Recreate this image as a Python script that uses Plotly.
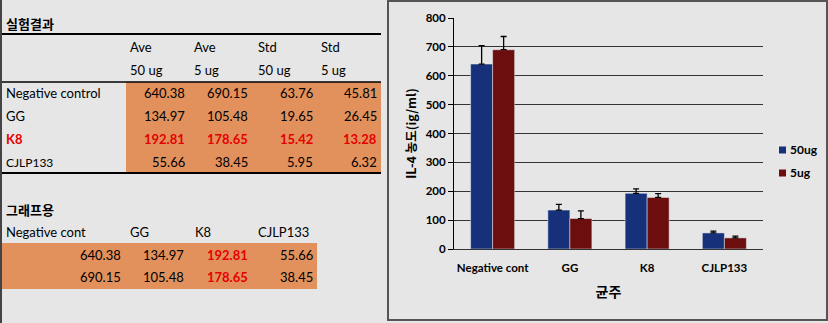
import plotly.graph_objects as go

# ---------------- data ----------------
categories = ["Negative cont", "GG", "K8", "CJLP133"]
row_labels = ["Negative control", "GG", "K8", "CJLP133"]
ave_50 = [640.38, 134.97, 192.81, 55.66]
ave_5 = [690.15, 105.48, 178.65, 38.45]
std_50 = [63.76, 19.65, 15.42, 5.95]
std_5 = [45.81, 26.45, 13.28, 6.32]
header_top = ["Ave", "Ave", "Std", "Std"]
header_bottom = ["50 ug", "5 ug", "50 ug", "5 ug"]
series_names = ["50ug", "5ug"]
y_ticks = [0, 100, 200, 300, 400, 500, 600, 700, 800]
highlight = "K8"

W, H = 828, 323
BG = "#e6e6e6"
ORANGE = "#e2915d"
BLUE = "#17307a"
RED = "#6c0e0e"
HILITE = "#e60000"
FONT = "Lato, 'Noto Sans CJK KR', sans-serif"
KFONT = "'Noto Sans CJK KR', Lato, sans-serif"
DY = -1  # visual centring correction for annotation text


def px(x):
    return x / W


def py(y):
    return 1 - y / H


fig = go.Figure()
fig.add_trace(go.Bar(
    x=categories, y=ave_50, name=series_names[0], marker_color=BLUE,
    error_y=dict(type="data", array=std_50, arrayminus=[0] * len(std_50), symmetric=False,
                 color="black", thickness=1.3, width=3),
    showlegend=False))
fig.add_trace(go.Bar(
    x=categories, y=ave_5, name=series_names[1], marker_color=RED,
    error_y=dict(type="data", array=std_5, arrayminus=[0] * len(std_5), symmetric=False,
                 color="black", thickness=1.3, width=3),
    showlegend=False))

shapes = []
annotations = []


def text(t, x, y, anchor="left", size=13, color="black", bold=False, family=FONT):
    annotations.append(dict(
        text=t, x=px(x), y=py(y + DY), xref="paper", yref="paper", xanchor=anchor,
        yanchor="middle", showarrow=False,
        font=dict(family=family, size=size, color=color, weight="bold" if bold else "normal")))


def rect(x0, y0, x1, y1, fill=None, line=None, lw=0, layer="below"):
    shapes.append(dict(type="rect", xref="paper", yref="paper",
                       x0=px(x0), x1=px(x1), y0=py(y0), y1=py(y1),
                       fillcolor=fill if fill else "rgba(0,0,0,0)",
                       line=dict(color=line if line else "rgba(0,0,0,0)", width=lw), layer=layer))


def hline(x0, x1, y, color="black", lw=1.5):
    shapes.append(dict(type="line", xref="paper", yref="paper", x0=px(x0), x1=px(x1),
                       y0=py(y), y1=py(y), line=dict(color=color, width=lw)))


# ---------------- table 1: 실험결과 ----------------
text("실험결과", 4, 24, size=13, bold=True, family=KFONT)
hline(0, 381, 34, lw=2)
col_left = [128, 192, 256, 319]
col_right = [187, 250, 315, 379]
for i in range(4):
    text(header_top[i], col_left[i], 48)
    text(header_bottom[i], col_left[i], 71)
hline(0, 381, 82, lw=1.5)
rect(126, 82, 381, 172, fill=ORANGE)
row_y = [94, 117, 140, 163]
for r, lab in enumerate(row_labels):
    hot = lab == highlight
    col = HILITE if hot else "black"
    text(lab, 4, row_y[r], color=col, bold=hot, size=12 if lab == "CJLP133" else 13)
    vals = [ave_50[r], ave_5[r], std_50[r], std_5[r]]
    for c, v in enumerate(vals):
        text(f"{v:.2f}", col_right[c], row_y[r], anchor="right", color=col, bold=hot)
hline(0, 381, 173, lw=2)

# ---------------- table 2: 그래프용 ----------------
text("그래프용", 4, 210, size=13, bold=True, family=KFONT)
head2_x = [4, 128, 193, 256]
for i, c in enumerate(categories):
    text(c, head2_x[i], 233)
rect(0, 243, 317, 289, fill=ORANGE)
g_right = [123, 186, 250, 315]
for r, series in enumerate([ave_50, ave_5]):
    for c, v in enumerate(series):
        hot = categories[c] == highlight
        text(f"{v:.2f}", g_right[c], [256, 278][r], anchor="right",
             color=HILITE if hot else "black", bold=hot)

# left border line and chart frame
shapes.append(dict(type="line", xref="paper", yref="paper", x0=px(1), x1=px(1), y0=0, y1=1,
                   line=dict(color="#444", width=2)))
rect(388, 1, 827, 320, line="#555", lw=2, layer="above")

# ---------------- manual legend ----------------
leg_y = [150, 173]
for i, (name, colr) in enumerate(zip(series_names, [BLUE, RED])):
    rect(779, leg_y[i] - 3.5, 786, leg_y[i] + 3.5, fill=colr, layer="above")
    text(name, 788, leg_y[i] + 0.5, size=12, bold=True)

fig.update_layout(
    width=W, height=H,
    margin=dict(l=0, r=0, t=0, b=0, autoexpand=False),
    paper_bgcolor=BG, plot_bgcolor=BG,
    barmode="group", bargap=0.43, bargroupgap=0,
    shapes=shapes, annotations=annotations,
    font=dict(family=FONT, color="black"),
    xaxis=dict(domain=[px(454), px(763)], type="category", showline=True, linecolor="#333",
               linewidth=1, ticks="", showgrid=False, automargin=False, ticklabelstandoff=8,
               tickfont=dict(size=11.5, weight="bold", family=FONT),
               title=dict(text="균주", font=dict(size=14, weight="bold", family=KFONT), standoff=14)),
    yaxis=dict(domain=[py(249), py(18)], range=[0, 800], tickvals=y_ticks, showline=True,
               linecolor="black", linewidth=1, ticks="outside", ticklen=5, tickcolor="black",
               showgrid=True, gridcolor="#333", gridwidth=1, zeroline=False, automargin=False,
               tickfont=dict(size=11.5, weight="bold", family=FONT),
               title=dict(text="IL-4 농도(ig/ml)", font=dict(size=12.5, weight="bold", family=KFONT),
                          standoff=6)),
)

fig.write_html("out.html")
